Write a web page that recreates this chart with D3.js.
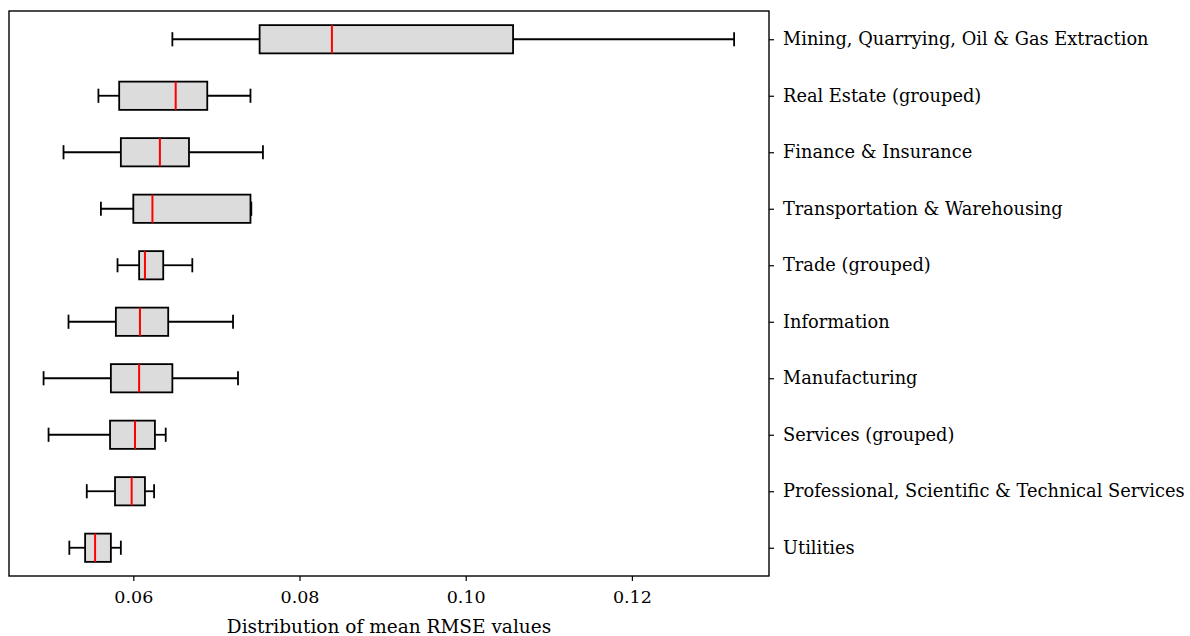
<!DOCTYPE html>
<html>
<head>
<meta charset="utf-8">
<script src="https://cdn.jsdelivr.net/npm/d3@7"></script>
<style>
  body { margin: 0; background: #fff; }
  text { font-family: "DejaVu Serif", "Liberation Serif", serif; fill: #000; }
</style>
</head>
<body>
<script>
// categories, bottom to top (matplotlib position 1..10)
var categories = [
  'Utilities',
  'Professional, Scientific & Technical Services',
  'Services (grouped)',
  'Manufacturing',
  'Information',
  'Trade (grouped)',
  'Transportation & Warehousing',
  'Finance & Insurance',
  'Real Estate (grouped)',
  'Mining, Quarrying, Oil & Gas Extraction'
]
var whiskerLow  = [0.0523, 0.0544, 0.0498, 0.0492, 0.0522, 0.0581, 0.0561, 0.0516, 0.0558, 0.0647]
var q1          = [0.0542, 0.0578, 0.0572, 0.0573, 0.0579, 0.0607, 0.0600, 0.0585, 0.0583, 0.0752]
var medians     = [0.0554, 0.0598, 0.0602, 0.0607, 0.0608, 0.0614, 0.0623, 0.0632, 0.0651, 0.0839]
var q3          = [0.0573, 0.0614, 0.0626, 0.0647, 0.0642, 0.0636, 0.0741, 0.0667, 0.0689, 0.1057]
var whiskerHigh = [0.0585, 0.0625, 0.0639, 0.0726, 0.0720, 0.0671, 0.0742, 0.0756, 0.0741, 0.1323]
var xTicks = [0.06, 0.08, 0.10, 0.12]

var W = 1190, H = 636
var m = {left: 9, top: 11, right: 769, bottom: 576}

var svg = d3.select('body').append('svg')
  .attr('width', W).attr('height', H)

var x = d3.scaleLinear().domain([0.04504, 0.1365]).range([m.left, m.right])
var y = d3.scaleLinear().domain([0.5, 10.5]).range([m.bottom, m.top])

var rows = categories.map(function(c, i){
  return {name: c, pos: i + 1, lo: whiskerLow[i], q1: q1[i], med: medians[i], q3: q3[i], hi: whiskerHigh[i]}
})

var boxH = y(0) - y(0.5)
var capH = y(0) - y(0.25)

var g = svg.append('g')
rows.forEach(function(d){
  var cy = y(d.pos)
  // whiskers
  g.append('line').attr('x1', x(d.lo)).attr('x2', x(d.q1)).attr('y1', cy).attr('y2', cy)
    .attr('stroke', '#000').attr('stroke-width', 1.8)
  g.append('line').attr('x1', x(d.q3)).attr('x2', x(d.hi)).attr('y1', cy).attr('y2', cy)
    .attr('stroke', '#000').attr('stroke-width', 1.8)
  // caps
  ;[d.lo, d.hi].forEach(function(v){
    g.append('line').attr('x1', x(v)).attr('x2', x(v)).attr('y1', cy - capH / 2).attr('y2', cy + capH / 2)
      .attr('stroke', '#000').attr('stroke-width', 1.8)
  })
  // box
  g.append('rect').attr('x', x(d.q1)).attr('y', cy - boxH / 2)
    .attr('width', x(d.q3) - x(d.q1)).attr('height', boxH)
    .attr('fill', '#dcdcdc').attr('stroke', '#000').attr('stroke-width', 1.8)
  // median
  g.append('line').attr('x1', x(d.med)).attr('x2', x(d.med)).attr('y1', cy - boxH / 2).attr('y2', cy + boxH / 2)
    .attr('stroke', '#ff0000').attr('stroke-width', 2)
})

// frame
svg.append('rect').attr('x', m.left).attr('y', m.top)
  .attr('width', m.right - m.left).attr('height', m.bottom - m.top)
  .attr('fill', 'none').attr('stroke', '#000').attr('stroke-width', 1.4)

// x axis
var xAxis = svg.append('g').attr('transform', 'translate(0,' + m.bottom + ')')
  .call(d3.axisBottom(x).tickValues(xTicks).tickFormat(d3.format('.2f')).tickSize(5).tickPadding(10))
xAxis.select('.domain').remove()
xAxis.selectAll('line').attr('stroke-width', 1.2)
xAxis.selectAll('text').attr('font-size', 17.5).style('font-family', '"DejaVu Serif", serif')

// y axis on the right
var yAxis = svg.append('g').attr('transform', 'translate(' + m.right + ',0)')
  .call(d3.axisRight(y).tickValues(rows.map(function(d){ return d.pos }))
    .tickFormat(function(p){ return categories[p - 1] }).tickSize(5).tickPadding(9))
yAxis.select('.domain').remove()
yAxis.selectAll('line').attr('stroke-width', 1.2)
yAxis.selectAll('text').attr('font-size', 17.8).style('font-family', '"DejaVu Serif", serif')

svg.append('text').attr('x', (m.left + m.right) / 2).attr('y', 633)
  .attr('text-anchor', 'middle').attr('font-size', 18.5)
  .text('Distribution of mean RMSE values')
</script>
</body>
</html>
